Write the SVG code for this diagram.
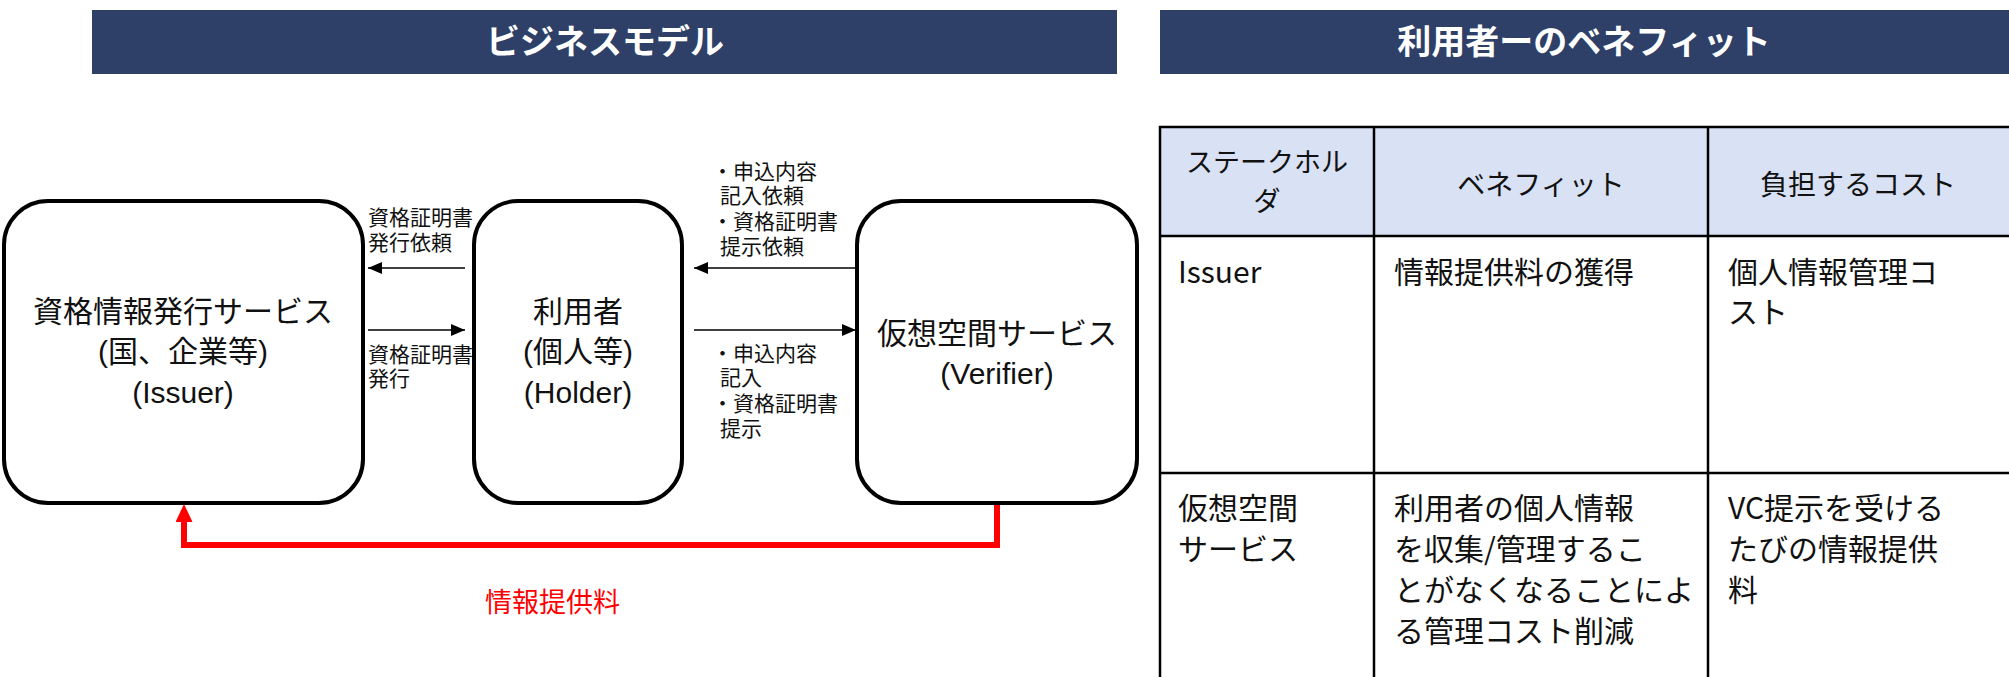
<svg xmlns="http://www.w3.org/2000/svg" width="2009" height="677" viewBox="0 0 2009 677">
<style>
.hdr{fill:#2E4068}
.hdrt{font-family:'Noto Sans CJK JP',sans-serif;font-weight:bold;font-size:34px;fill:#fff;text-anchor:middle}
.node{fill:#fff;stroke:#000;stroke-width:4}
.nt{font-family:'Liberation Sans','Noto Sans CJK JP',sans-serif;font-size:30px;fill:#111;text-anchor:middle}
.lbl{font-family:'Liberation Sans','Noto Sans CJK JP',sans-serif;font-size:21px;fill:#111}
.conn{stroke:#000;stroke-width:1.6;fill:none}
.red{stroke:#FF0000;stroke-width:6;fill:none;stroke-linejoin:miter}
.redt{font-family:'Noto Sans CJK JP',sans-serif;font-size:27px;fill:#FF0000}
.grid{stroke:#000;stroke-width:2.5;fill:none}
.th{font-family:'Noto Sans CJK JP',sans-serif;font-size:28px;fill:#111;text-anchor:middle}
.td{font-family:'Noto Sans CJK JP',sans-serif;font-size:30px;fill:#111}
</style>
<defs>
<marker id="ah" markerUnits="userSpaceOnUse" markerWidth="14" markerHeight="12" refX="14" refY="6" orient="auto"><path d="M0,0 L14,6 L0,12 z" fill="#000"/></marker>
<marker id="rah" markerUnits="userSpaceOnUse" markerWidth="18" markerHeight="18" refX="0" refY="8.5" orient="auto"><path d="M0,0 L18,8.5 L0,17 z" fill="#FF0000"/></marker>
</defs>
<rect width="2009" height="677" fill="#fff"/>

<g id="header-business">
<rect class="hdr" x="92" y="10" width="1025" height="64"/>
<text class="hdrt" x="605" y="54">ビジネスモデル</text>
</g>
<g id="header-benefit">
<rect class="hdr" x="1160" y="10" width="849" height="64"/>
<text class="hdrt" x="1584" y="54">利用者ーのベネフィット</text>
</g>

<g id="node-issuer">
<rect class="node" x="4" y="201" width="359" height="302" rx="44" ry="44"/>
<text class="nt" x="183" y="322">資格情報発行サービス</text>
<text class="nt" x="183" y="362">(国、企業等)</text>
<text class="nt" x="183" y="403">(Issuer)</text>
</g>
<g id="node-holder">
<rect class="node" x="474" y="201" width="208" height="302" rx="44" ry="44"/>
<text class="nt" x="578" y="322">利用者</text>
<text class="nt" x="578" y="362">(個人等)</text>
<text class="nt" x="578" y="403">(Holder)</text>
</g>
<g id="node-verifier">
<rect class="node" x="857" y="201" width="280" height="302" rx="44" ry="44"/>
<text class="nt" x="997" y="344">仮想空間サービス</text>
<text class="nt" x="997" y="384">(Verifier)</text>
</g>

<g id="connectors">
<line class="conn" x1="465" y1="268" x2="368" y2="268" marker-end="url(#ah)"/>
<line class="conn" x1="368" y1="330" x2="465" y2="330" marker-end="url(#ah)"/>
<line class="conn" x1="857" y1="268" x2="694" y2="268" marker-end="url(#ah)"/>
<line class="conn" x1="694" y1="330" x2="856" y2="330" marker-end="url(#ah)"/>
<path class="red" d="M997,505 V545 H184 V522" marker-end="url(#rah)"/>
<text class="lbl" x="368" y="225">資格証明書</text>
<text class="lbl" x="368" y="250">発行依頼</text>
<text class="lbl" x="368" y="362">資格証明書</text>
<text class="lbl" x="368" y="386">発行</text>
<text class="lbl" x="712" y="179">・申込内容</text>
<text class="lbl" x="720" y="203">記入依頼</text>
<text class="lbl" x="712" y="229">・資格証明書</text>
<text class="lbl" x="720" y="254">提示依頼</text>
<text class="lbl" x="712" y="361">・申込内容</text>
<text class="lbl" x="720" y="385">記入</text>
<text class="lbl" x="712" y="411">・資格証明書</text>
<text class="lbl" x="720" y="436">提示</text>
<text class="redt" x="485" y="612">情報提供料</text>
</g>

<g id="benefit-table">
<rect x="1160" y="127" width="852" height="109" fill="#D9E1F4"/>
<path class="grid" d="M1160,680 V127 H2012 M1160,236 H2012 M1160,473 H2012 M1374,127 V680 M1708,127 V680"/>
<text class="th" x="1267" y="172" style="font-size:27px">ステークホル</text>
<text class="th" x="1267" y="211" style="font-size:27px">ダ</text>
<text class="th" x="1541" y="195">ベネフィット</text>
<text class="th" x="1858" y="195">負担するコスト</text>
<text class="td" x="1178" y="283">Issuer</text>
<text class="td" x="1394" y="283">情報提供料の獲得</text>
<text class="td" x="1728" y="283">個人情報管理コ</text>
<text class="td" x="1728" y="323">スト</text>
<text class="td" x="1178" y="519">仮想空間</text>
<text class="td" x="1178" y="560">サービス</text>
<text class="td" x="1394" y="519">利用者の個人情報</text>
<text class="td" x="1394" y="560">を収集/管理するこ</text>
<text class="td" x="1394" y="601">とがなくなることによ</text>
<text class="td" x="1394" y="642">る管理コスト削減</text>
<text class="td" x="1728" y="519">VC提示を受ける</text>
<text class="td" x="1728" y="560">たびの情報提供</text>
<text class="td" x="1728" y="601">料</text>
</g>
</svg>
